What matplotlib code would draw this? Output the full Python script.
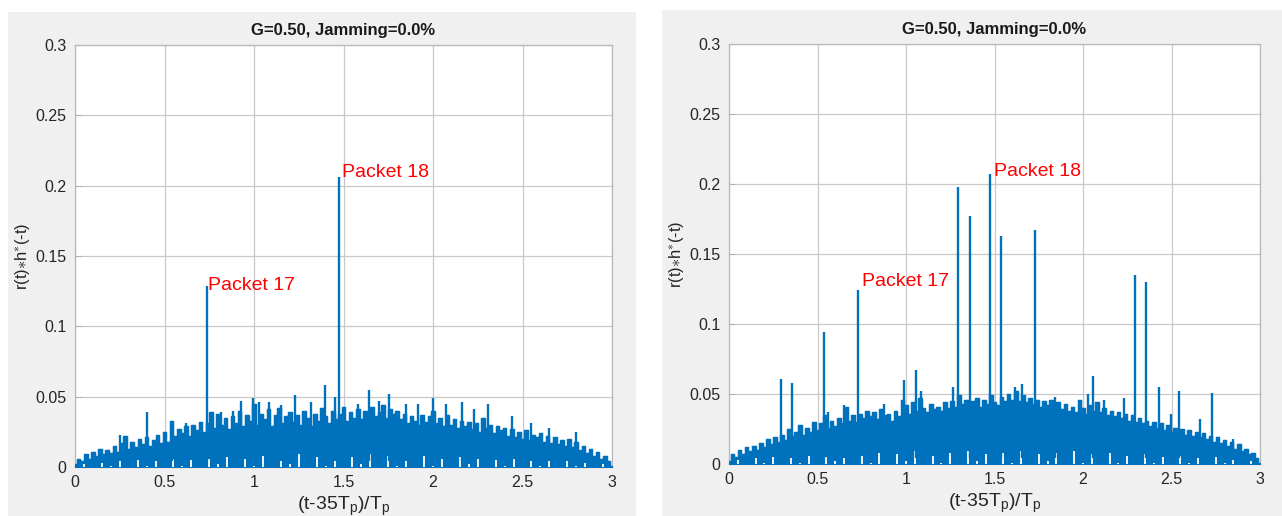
import numpy as np
import matplotlib
matplotlib.use("Agg")
import matplotlib.pyplot as plt
from matplotlib.patches import Rectangle

plt.rcParams['font.family'] = ['Liberation Sans', 'DejaVu Sans']
plt.rcParams['mathtext.fontset'] = 'custom'
plt.rcParams['mathtext.rm'] = 'Liberation Sans'
plt.rcParams['mathtext.it'] = 'Liberation Sans'

BLUE = '#0072BD'

title_text = 'G=0.50, Jamming=0.0%'
xlabel_text = r'(t-35T$_\mathregular{p}$)/T$_\mathregular{p}$'
ylabel_text = r'r(t)$\ast$h$^{\ast}$(-t)'
xticks = [0, 0.5, 1, 1.5, 2, 2.5, 3]
xtick_labels = ['0', '0.5', '1', '1.5', '2', '2.5', '3']
yticks = [0, 0.05, 0.1, 0.15, 0.2, 0.25, 0.3]
ytick_labels = ['0', '0.05', '0.1', '0.15', '0.2', '0.25', '0.3']

# Top edge of the correlator noise band, sampled every 0.02 Tp (0 .. 3)
upper_left = [
    0.002, 0.006, 0.004, 0.009, 0.006, 0.011, 0.008, 0.013, 0.009, 0.012,
    0.010, 0.015, 0.011, 0.017, 0.022, 0.013, 0.018, 0.014, 0.020, 0.016,
    0.021, 0.015, 0.019, 0.023, 0.017, 0.025, 0.018, 0.033, 0.022, 0.027,
    0.024, 0.029, 0.022, 0.030, 0.026, 0.032, 0.025, 0.031, 0.039, 0.028,
    0.038, 0.030, 0.035, 0.027, 0.036, 0.031, 0.040, 0.029, 0.037, 0.033,
    0.045, 0.030, 0.038, 0.034, 0.041, 0.029, 0.037, 0.042, 0.031, 0.036,
    0.039, 0.032, 0.037, 0.030, 0.040, 0.035, 0.029, 0.038, 0.033, 0.042,
    0.036, 0.031, 0.040, 0.034, 0.038, 0.043, 0.033, 0.039, 0.035, 0.041,
    0.034, 0.040, 0.037, 0.043, 0.036, 0.039, 0.044, 0.035, 0.041, 0.038,
    0.040, 0.034, 0.038, 0.031, 0.036, 0.033, 0.030, 0.037, 0.032, 0.036,
    0.040, 0.031, 0.035, 0.029, 0.037, 0.030, 0.034, 0.028, 0.033, 0.029,
    0.032, 0.027, 0.031, 0.025, 0.035, 0.028, 0.030, 0.024, 0.029, 0.026,
    0.028, 0.022, 0.027, 0.021, 0.025, 0.020, 0.026, 0.019, 0.023, 0.021,
    0.024, 0.018, 0.022, 0.017, 0.021, 0.016, 0.019, 0.015, 0.020, 0.014,
    0.018, 0.012, 0.015, 0.010, 0.013, 0.008, 0.011, 0.006, 0.008, 0.004,
    0.001,
]
upper_right = [
    0.002, 0.007, 0.005, 0.010, 0.007, 0.012, 0.009, 0.013, 0.010, 0.015,
    0.012, 0.018, 0.014, 0.019, 0.016, 0.021, 0.017, 0.025, 0.020, 0.023,
    0.028, 0.021, 0.026, 0.023, 0.030, 0.024, 0.029, 0.035, 0.026, 0.031,
    0.027, 0.033, 0.029, 0.041, 0.031, 0.035, 0.030, 0.036, 0.033, 0.038,
    0.034, 0.037, 0.032, 0.039, 0.035, 0.036, 0.031, 0.038, 0.034, 0.046,
    0.042, 0.036, 0.044, 0.038, 0.047, 0.040, 0.037, 0.043, 0.039, 0.041,
    0.038, 0.044, 0.040, 0.045, 0.041, 0.049, 0.043, 0.046, 0.042, 0.045,
    0.047, 0.041, 0.046, 0.043, 0.049, 0.044, 0.042, 0.048, 0.045, 0.050,
    0.046, 0.052, 0.045, 0.049, 0.044, 0.047, 0.043, 0.046, 0.041, 0.045,
    0.042, 0.046, 0.040, 0.044, 0.039, 0.043, 0.038, 0.041, 0.037, 0.046,
    0.040, 0.036, 0.042, 0.038, 0.044, 0.037, 0.040, 0.035, 0.038, 0.034,
    0.037, 0.033, 0.036, 0.031, 0.035, 0.030, 0.033, 0.029, 0.031, 0.027,
    0.030, 0.026, 0.029, 0.024, 0.028, 0.023, 0.026, 0.022, 0.025, 0.021,
    0.024, 0.020, 0.023, 0.019, 0.022, 0.018, 0.020, 0.016, 0.019, 0.015,
    0.017, 0.013, 0.016, 0.011, 0.014, 0.009, 0.011, 0.007, 0.008, 0.004,
    0.001,
]

# Depth of the gaps reaching up from zero inside the band, every 0.05 Tp (0 .. 3)
lower_left = [
    0.000, 0.002, 0.000, 0.003, 0.001, 0.004, 0.000, 0.005, 0.001, 0.004,
    0.000, 0.006, 0.001, 0.005, 0.000, 0.006, 0.002, 0.007, 0.000, 0.006,
    0.001, 0.008, 0.000, 0.006, 0.002, 0.009, 0.000, 0.007, 0.001, 0.008,
    0.000, 0.007, 0.002, 0.009, 0.000, 0.008, 0.001, 0.007, 0.000, 0.008,
    0.001, 0.006, 0.000, 0.007, 0.002, 0.006, 0.000, 0.005, 0.001, 0.006,
    0.000, 0.005, 0.001, 0.004, 0.000, 0.004, 0.001, 0.003, 0.000, 0.002,
    0.000,
]
lower_right = [
    0.000, 0.003, 0.000, 0.004, 0.001, 0.005, 0.000, 0.004, 0.001, 0.006,
    0.000, 0.005, 0.002, 0.007, 0.000, 0.006, 0.001, 0.008, 0.000, 0.007,
    0.002, 0.009, 0.000, 0.006, 0.001, 0.008, 0.000, 0.009, 0.002, 0.007,
    0.000, 0.008, 0.001, 0.009, 0.000, 0.007, 0.002, 0.008, 0.000, 0.009,
    0.001, 0.007, 0.000, 0.008, 0.001, 0.006, 0.000, 0.007, 0.001, 0.005,
    0.000, 0.006, 0.001, 0.004, 0.000, 0.005, 0.001, 0.003, 0.000, 0.002,
    0.000,
]

# Isolated correlation peaks standing out of the band
spike_x_left = [0.25, 0.40, 0.54, 0.62, 0.735, 0.815, 0.88, 0.93, 0.993, 1.03,
                1.085, 1.15, 1.23, 1.32, 1.397, 1.45, 1.477, 1.58, 1.644, 1.70,
                1.753, 1.85, 1.915, 2.00, 2.07, 2.16, 2.23, 2.31, 2.44, 2.55,
                2.65, 2.80]
spike_h_left = [0.023, 0.039, 0.033, 0.031, 0.129, 0.039, 0.040, 0.047, 0.049, 0.046,
                0.046, 0.044, 0.051, 0.046, 0.058, 0.050, 0.206, 0.045, 0.055, 0.047,
                0.052, 0.045, 0.045, 0.049, 0.045, 0.046, 0.041, 0.045, 0.036, 0.031,
                0.028, 0.025]
spike_x_right = [0.293, 0.358, 0.538, 0.56, 0.647, 0.730, 0.878, 0.989, 1.054, 1.082,
                 1.266, 1.294, 1.359, 1.474, 1.539, 1.615, 1.657, 1.729, 1.84, 2.03,
                 2.057, 2.12, 2.232, 2.293, 2.357, 2.427, 2.496, 2.542, 2.66, 2.729,
                 2.85]
spike_h_right = [0.061, 0.058, 0.094, 0.037, 0.042, 0.124, 0.043, 0.060, 0.067, 0.052,
                 0.055, 0.198, 0.177, 0.207, 0.163, 0.055, 0.057, 0.167, 0.048, 0.050,
                 0.063, 0.046, 0.047, 0.135, 0.130, 0.055, 0.036, 0.052, 0.032, 0.051,
                 0.018]

# Labelled packets: (label, x, y)
labels_left = [('Packet 17', 0.745, 0.129), ('Packet 18', 1.49, 0.2095)]
labels_right = [('Packet 17', 0.75, 0.130), ('Packet 18', 1.50, 0.209)]

W, H = 1282, 516
fig = plt.figure(figsize=(W / 100, H / 100), dpi=100, facecolor='white')

# grey figure panels behind each plot
fig.patches.append(Rectangle((8 / W, 0), 628 / W, 504 / H, transform=fig.transFigure,
                             facecolor='#f0f0f0', edgecolor='none', zorder=-5))
fig.patches.append(Rectangle((662 / W, 0), 620 / W, 506 / H, transform=fig.transFigure,
                             facecolor='#f0f0f0', edgecolor='none', zorder=-5))

ax_l = fig.add_axes([75 / W, (H - 467) / H, 537 / W, 422 / H])
ax_r = fig.add_axes([729 / W, (H - 464) / H, 531 / W, 420 / H])


def draw_panel(ax, upper, lower, sx, sh, labels):
    xu = np.linspace(0, 3, len(upper))
    xl = np.linspace(0, 3, len(lower))
    # dense noise band drawn as a stepped envelope
    ax.fill_between(xu, 0, upper, step='mid', color=BLUE, lw=0.8, zorder=3)
    ax.plot(xu, upper, drawstyle='steps-mid', color=BLUE, lw=1.0, zorder=3)
    # thin gaps rising from the zero line
    ax.vlines(xl, 0, lower, color='white', lw=1.3, zorder=3.5)
    # isolated peaks
    ax.vlines(sx, 0.004, sh, color=BLUE, lw=1.7, zorder=4)
    for txt, x, y in labels:
        ax.text(x, y, txt, color='#ff0000', fontsize=14, ha='left', va='center', zorder=5)

    ax.set_xlim(0, 3)
    ax.set_ylim(0, 0.3)
    ax.set_xticks(xticks)
    ax.set_xticklabels(xtick_labels)
    ax.set_yticks(yticks)
    ax.set_yticklabels(ytick_labels)
    ax.grid(True, color='#c8c8c8', lw=0.9, zorder=1)
    ax.set_axisbelow(True)
    ax.tick_params(direction='in', length=4, width=0.7, colors='#b0b0b0',
                   labelcolor='#262626', labelsize=11.5, pad=6)
    for s in ax.spines.values():
        s.set_color('#b8b8b8')
        s.set_linewidth(0.9)
    ax.set_title(title_text, fontsize=12, fontweight='bold', color='#1a1a1a', pad=7)
    ax.set_xlabel(xlabel_text, fontsize=14, color='#262626', labelpad=3)
    ax.set_ylabel(ylabel_text, fontsize=12, color='#262626', labelpad=2)


draw_panel(ax_l, upper_left, lower_left, spike_x_left, spike_h_left, labels_left)
draw_panel(ax_r, upper_right, lower_right, spike_x_right, spike_h_right, labels_right)

fig.savefig('out.png', dpi=100, facecolor='white')
